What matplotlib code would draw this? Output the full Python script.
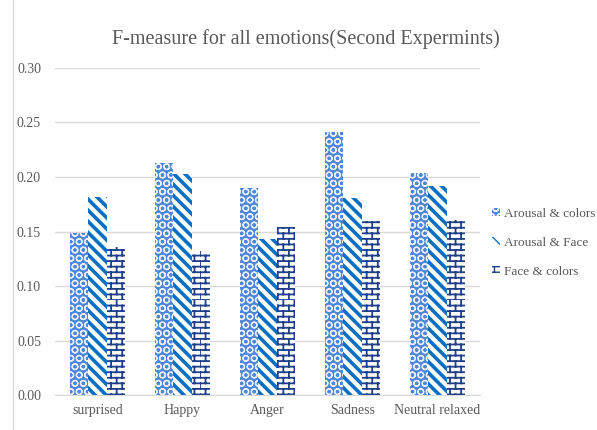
import warnings
import numpy as np
import matplotlib
matplotlib.use("Agg")
import matplotlib.pyplot as plt
from matplotlib import hatch as mhatch
from matplotlib.path import Path

warnings.filterwarnings("ignore")

categories = ["surprised", "Happy", "Anger", "Sadness", "Neutral relaxed"]
series_names = ["Arousal & colors", "Arousal & Face", "Face & colors"]
arousal_colors = [0.149, 0.213, 0.190, 0.241, 0.204]
arousal_face = [0.182, 0.203, 0.143, 0.181, 0.192]
face_colors = [0.136, 0.132, 0.154, 0.160, 0.161]
yticks = [0.00, 0.05, 0.10, 0.15, 0.20, 0.25, 0.30]


class BrickHatch(mhatch.HatchPatternBase):
    """Brick wall hatch, one 'b' per density step of rows."""

    def __init__(self, hatch, density):
        self.rows = hatch.count("b") * density
        if self.rows % 2:
            self.rows += 1
        self.cols = max(self.rows // 2, 1) if self.rows else 0
        self.num_vertices = (2 * self.rows + 2 * self.rows * self.cols) if self.rows else 0

    def set_vertices_and_codes(self, vertices, codes):
        k = 0
        r, c = self.rows, self.cols
        for i in range(r):
            y = i / r
            vertices[k] = (0, y); vertices[k + 1] = (1, y)
            codes[k] = Path.MOVETO; codes[k + 1] = Path.LINETO
            k += 2
        for i in range(r):
            off = 0.5 * (i % 2)
            for j in range(c):
                x = (j + off) / c
                vertices[k] = (x, i / r); vertices[k + 1] = (x, (i + 1) / r)
                codes[k] = Path.MOVETO; codes[k + 1] = Path.LINETO
                k += 2


mhatch._hatch_types.append(BrickHatch)

serif = "Liberation Serif"
grey = "#595959"

fig = plt.figure(figsize=(5.97, 4.30), dpi=100)
ax = fig.add_axes([0.092, 0.081, 0.712, 0.761])

x = np.arange(len(categories))
w = 0.215

with plt.rc_context({"hatch.linewidth": 0.9}):
    b1 = ax.bar(x - w, arousal_colors, w, facecolor="#4f86d8", edgecolor="#e8f0fb",
                hatch="OO", linewidth=0, label=series_names[0], zorder=2)
with plt.rc_context({"hatch.linewidth": 2.6}):
    b2 = ax.bar(x, arousal_face, w, facecolor="white", edgecolor="#0a6fc2",
                hatch="\\\\\\", linewidth=0, label=series_names[1], zorder=2)
with plt.rc_context({"hatch.linewidth": 1.3}):
    b3 = ax.bar(x + w, face_colors, w, facecolor="white", edgecolor="#1f3f8a",
                hatch="bbb", linewidth=0, label=series_names[2], zorder=2)

ax.set_xlim(-0.5, len(categories) - 0.5)
ax.set_ylim(0, 0.30)
ax.set_yticks(yticks)
ax.set_yticklabels([f"{v:.2f}" for v in yticks])
ax.set_xticks(x)
ax.set_xticklabels(categories)
ax.grid(axis="y", color="#d9d9d9", linewidth=1, zorder=0)
ax.set_axisbelow(True)
for s in ["top", "right", "left"]:
    ax.spines[s].set_visible(False)
ax.spines["bottom"].set_color("#d9d9d9")
ax.tick_params(axis="both", length=0, labelsize=10, labelcolor=grey)
ax.tick_params(axis="y", pad=10)
ax.tick_params(axis="x", pad=6)
for lab in ax.get_xticklabels() + ax.get_yticklabels():
    lab.set_fontfamily(serif)

fig.suptitle("F-measure for all emotions(Second Expermints)", x=0.513, y=0.932,
             fontsize=14.5, color=grey, fontfamily=serif)

leg = fig.legend(handles=[b1, b2, b3], loc="center left", bbox_to_anchor=(0.805, 0.435),
                 frameon=False, prop={"family": serif, "size": 9.5},
                 handlelength=0.6, handleheight=0.6, handletextpad=0.3,
                 labelspacing=1.3, labelcolor=grey)

fig.add_artist(plt.Line2D([0.021, 0.021], [0.0, 1.0], color="#d9d9d9", linewidth=1,
                          transform=fig.transFigure))

fig.savefig("out.png", dpi=100)
